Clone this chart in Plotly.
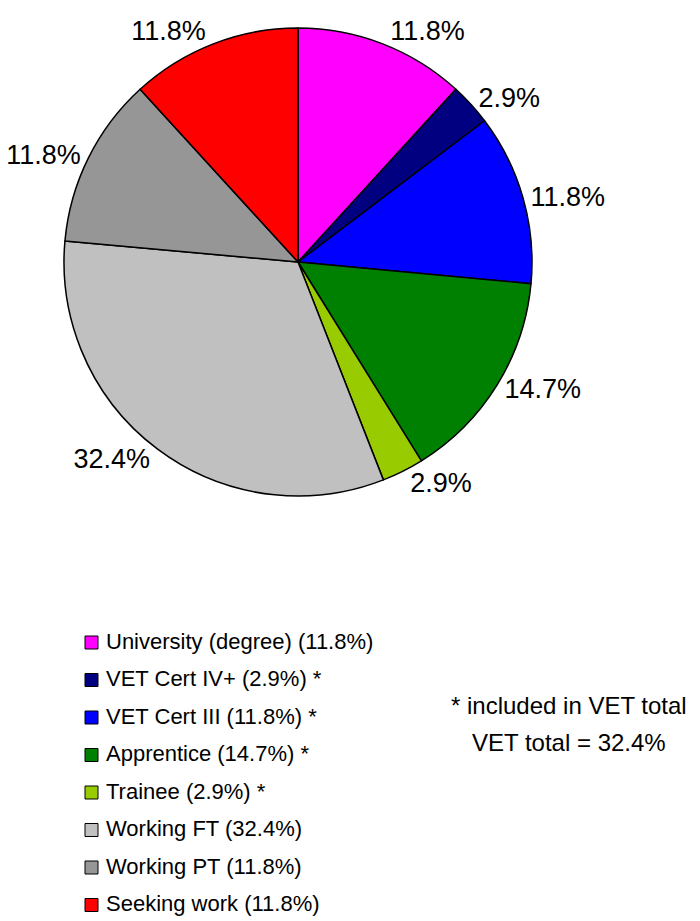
import plotly.graph_objects as go

categories = ["University (degree)", "VET Cert IV+", "VET Cert III", "Apprentice",
              "Trainee", "Working FT", "Working PT", "Seeking work"]
shares = [11.8, 2.9, 11.8, 14.7, 2.9, 32.4, 11.8, 11.8]
in_vet = [False, True, True, True, True, False, False, False]
colors = ["#FF00FF", "#000080", "#0000FF", "#008000", "#99CC00", "#C0C0C0", "#969696", "#FF0000"]
note_lines = ["* included in VET total", "VET total = 32.4%"]

W, H = 700, 921
FONT = "Liberation Sans, Arial, sans-serif"

# pie geometry (pixels)
cx, cy, r = 298, 262, 234

fig = go.Figure()
fig.add_trace(go.Pie(
    labels=categories,
    values=shares,
    sort=False,
    direction="clockwise",
    rotation=0,
    marker=dict(colors=colors, line=dict(color="black", width=1.5)),
    texttemplate="%{value:.1f}%",
    textposition="outside",
    textfont=dict(family=FONT, size=27, color="black"),
    domain=dict(x=[(cx - r) / W, (cx + r) / W],
                y=[(H - cy - r) / H, (H - cy + r) / H]),
    showlegend=False,
    hoverinfo="label+percent",
))

# manual legend
shapes = []
annotations = []
row0, step = 641, 37.5
for i, (cat, val, star, col) in enumerate(zip(categories, shares, in_vet, colors)):
    yc = row0 + i * step
    shapes.append(dict(type="rect", xref="paper", yref="paper",
                       x0=85 / W, x1=98 / W,
                       y0=1 - (yc + 8) / H, y1=1 - (yc - 5) / H,
                       fillcolor=col, line=dict(color="black", width=1)))
    label = f"{cat} ({val:.1f}%)" + (" *" if star else "")
    annotations.append(dict(xref="paper", yref="paper", x=104 / W, y=1 - yc / H,
                            xanchor="left", yanchor="middle", showarrow=False,
                            text=label, font=dict(family=FONT, size=22, color="black")))

for j, line in enumerate(note_lines):
    annotations.append(dict(xref="paper", yref="paper", x=569 / W, y=1 - (705 + 37 * j) / H,
                            xanchor="center", yanchor="middle", showarrow=False,
                            text=line, font=dict(family=FONT, size=24, color="black")))

fig.update_layout(
    width=W, height=H,
    margin=dict(l=0, r=0, t=0, b=0),
    paper_bgcolor="white", plot_bgcolor="white",
    shapes=shapes, annotations=annotations,
)

fig.write_html("out.html", config={"displayModeBar": False},
               post_script="document.body.style.margin='0';document.body.style.overflow='hidden';")
